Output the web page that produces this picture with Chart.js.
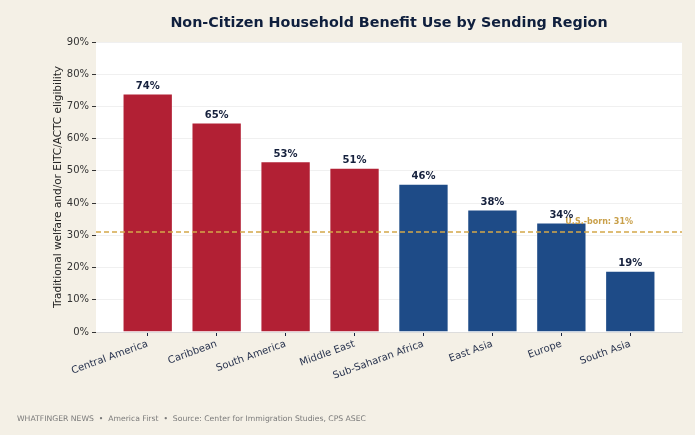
<!DOCTYPE html>
<html lang="en">
<head>
<meta charset="UTF-8">
<title>Non-Citizen Household Benefit Use</title>
<script src="https://cdn.jsdelivr.net/npm/chart.js@4/dist/chart.umd.min.js"></script>
<style>
  html, body { margin: 0; padding: 0; background: #f4f0e6; }
  #wrap { width: 695px; height: 435px; position: relative; }
</style>
</head>
<body>
<div id="wrap"><canvas id="grafico" width="695" height="435"></canvas></div>
<script>
    // data
    var regioes = ['Central America', 'Caribbean', 'South America', 'Middle East',
        'Sub-Saharan Africa', 'East Asia', 'Europe', 'South Asia'];
    var uso = [74, 65, 53, 51, 46, 38, 34, 19];
    var grupo = ['lat', 'lat', 'lat', 'lat', 'out', 'out', 'out', 'out'];
    var nativos = 31;
    var ticks_y = [0, 10, 20, 30, 40, 50, 60, 70, 80, 90];

    var VERMELHO = '#b22034';
    var AZUL = '#1e4b87';
    var FONTE = '"DejaVu Sans", Verdana, sans-serif';

    var cores = grupo.map(function (g) { return g == 'lat' ? VERMELHO : AZUL });

    // white plot area, reference line, labels, title and footer
    var enfeites = {
        id: 'enfeites',
        beforeDraw: function (chart) {
            var ctx = chart.ctx, a = chart.chartArea;
            ctx.save();
            ctx.fillStyle = '#f4f0e6';
            ctx.fillRect(0, 0, chart.width, chart.height);
            ctx.fillStyle = '#ffffff';
            ctx.fillRect(a.left, a.top, a.right - a.left, a.bottom - a.top);
            ctx.restore();
        },
        afterDatasetsDraw: function (chart) {
            var ctx = chart.ctx, a = chart.chartArea;
            var y = chart.scales.y;
            ctx.save();
            // U.S.-born line
            var yl = y.getPixelForValue(nativos);
            ctx.strokeStyle = '#d4a84a';
            ctx.lineWidth = 1.5;
            ctx.setLineDash([5, 3]);
            ctx.beginPath();
            ctx.moveTo(a.left, yl);
            ctx.lineTo(a.right, yl);
            ctx.stroke();
            ctx.setLineDash([]);
            ctx.fillStyle = '#c9a04a';
            ctx.font = 'bold 8px ' + FONTE;
            ctx.textAlign = 'left';
            ctx.textBaseline = 'middle';
            ctx.fillText('U.S.-born: ' + nativos + '%', chart.scales.x.getPixelForValue(6) + 4, yl - 10);

            // value labels
            ctx.fillStyle = '#16213d';
            ctx.font = 'bold 10px ' + FONTE;
            ctx.textAlign = 'center';
            ctx.textBaseline = 'alphabetic';
            chart.getDatasetMeta(0).data.forEach(function (bar, i) {
                ctx.fillText(uso[i] + '%', bar.x, bar.y - 4.5);
            });

            // title
            ctx.fillStyle = '#0f1f3d';
            ctx.font = 'bold 14.3px ' + FONTE;
            ctx.textAlign = 'center';
            ctx.textBaseline = 'middle';
            ctx.fillText('Non-Citizen Household Benefit Use by Sending Region', 389, 23);

            // footer
            ctx.fillStyle = '#7a7a7a';
            ctx.font = '7.7px ' + FONTE;
            ctx.textAlign = 'left';
            ctx.fillText('WHATFINGER NEWS  \u2022  America First  \u2022  Source: Center for Immigration Studies, CPS ASEC', 17, 419);
            ctx.restore();
        }
    };

    new Chart(document.getElementById('grafico'), {
        type: 'bar',
        data: {
            datasets: [{
                data: uso.map(function (v, i) { return { x: i, y: v } }),
                backgroundColor: cores,
                borderColor: 'rgba(255,255,255,0.4)',
                borderWidth: 1,
                categoryPercentage: 1,
                barPercentage: 0.73
            }]
        },
        options: {
            responsive: false,
            animation: false,
            devicePixelRatio: 1,
            layout: { padding: { top: 42, right: 13, left: 52, bottom: 0 } },
            plugins: {
                legend: { display: false },
                tooltip: { enabled: false }
            },
            scales: {
                x: {
                    type: 'linear',
                    offset: false,
                    min: -0.75,
                    max: 7.75,
                    afterBuildTicks: function (s) {
                        s.ticks = regioes.map(function (r, i) { return { value: i } });
                    },
                    afterFit: function (s) { s.height = 103; },
                    grid: {
                        display: true,
                        offset: false,
                        drawOnChartArea: false,
                        drawTicks: true,
                        tickLength: 4,
                        color: '#1a2540'
                    },
                    border: { display: true, color: '#dddddd' },
                    ticks: {
                        autoSkip: false,
                        minRotation: 20,
                        maxRotation: 20,
                        padding: 2,
                        color: '#2a3550',
                        font: { family: FONTE, size: 10 },
                        callback: function (v) { return regioes[v] }
                    }
                },
                y: {
                    min: 0,
                    max: 90,
                    afterBuildTicks: function (s) {
                        s.ticks = ticks_y.map(function (v) { return { value: v } });
                    },
                    afterFit: function (s) { s.width = 44; },
                    grid: {
                        color: '#f0f0f0',
                        tickColor: '#333333',
                        tickLength: 4
                    },
                    border: { display: false },
                    ticks: {
                        padding: 3,
                        color: '#333333',
                        font: { family: FONTE, size: 10 },
                        callback: function (v) { return v + '%' }
                    },
                    title: {
                        display: true,
                        text: 'Traditional welfare and/or EITC/ACTC eligibility',
                        color: '#222222',
                        font: { family: FONTE, size: 10.5 },
                        padding: { top: 0, bottom: 3 }
                    }
                }
            }
        },
        plugins: [enfeites]
    });
</script>
</body>
</html>
